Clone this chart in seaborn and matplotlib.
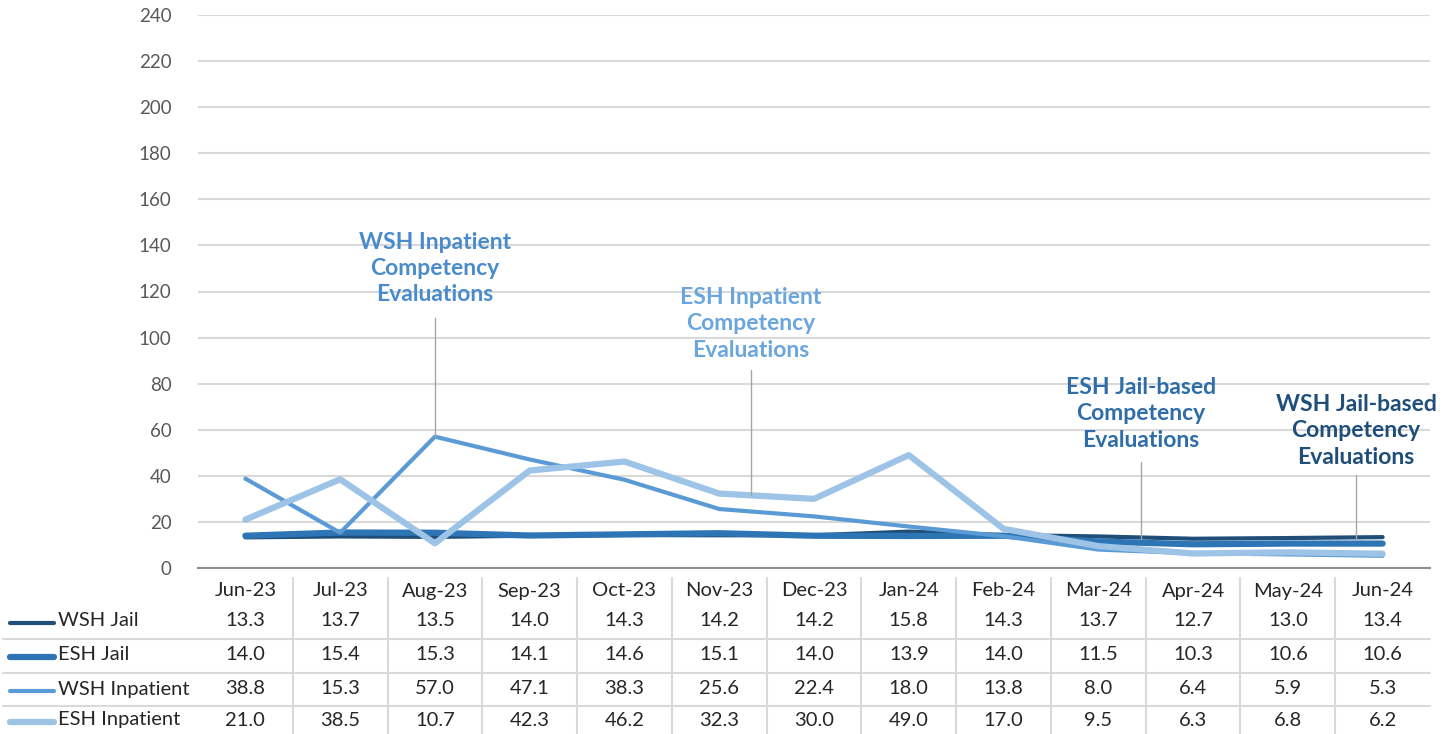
import pandas as pd
import seaborn as sns
import matplotlib.pyplot as plt
from matplotlib.lines import Line2D

# chart data
months = ["Jun-23", "Jul-23", "Aug-23", "Sep-23", "Oct-23", "Nov-23", "Dec-23",
          "Jan-24", "Feb-24", "Mar-24", "Apr-24", "May-24", "Jun-24"]
wsh_jail = [13.3, 13.7, 13.5, 14.0, 14.3, 14.2, 14.2, 15.8, 14.3, 13.7, 12.7, 13.0, 13.4]
esh_jail = [14.0, 15.4, 15.3, 14.1, 14.6, 15.1, 14.0, 13.9, 14.0, 11.5, 10.3, 10.6, 10.6]
wsh_inpatient = [38.8, 15.3, 57.0, 47.1, 38.3, 25.6, 22.4, 18.0, 13.8, 8.0, 6.4, 5.9, 5.3]
esh_inpatient = [21.0, 38.5, 10.7, 42.3, 46.2, 32.3, 30.0, 49.0, 17.0, 9.5, 6.3, 6.8, 6.2]

series_names = ["WSH Jail", "ESH Jail", "WSH Inpatient", "ESH Inpatient"]
series_values = [wsh_jail, esh_jail, wsh_inpatient, esh_inpatient]
colors = ["#1F4E79", "#2E75B6", "#5B9BD5", "#9DC3E6"]
widths = [3.0, 4.5, 3.0, 4.5]

sns.set_theme(style="white")
plt.rcParams["font.family"] = ["Lato", "DejaVu Sans"]

rows = []
for name, vals in zip(series_names, series_values):
    for i, v in enumerate(vals):
        rows.append({"series": name, "idx": i, "value": v})
df = pd.DataFrame(rows)

W, H = 1455, 734
fig = plt.figure(figsize=(W / 100, H / 100), dpi=100)
ax_left, ax_right, ax_top, ax_bot = 198, 1430, 15, 568
ax = fig.add_axes([ax_left / W, 1 - ax_bot / H, (ax_right - ax_left) / W, (ax_bot - ax_top) / H])

for name, c, lw in zip(series_names, colors, widths):
    sns.lineplot(data=df[df["series"] == name], x="idx", y="value", color=c,
                 linewidth=lw, ax=ax, legend=False, solid_capstyle="round", zorder=3)

ax.set_xlim(-0.5, len(months) - 0.5)
ax.set_ylim(0, 240)
ax.set_yticks(range(0, 241, 20))
ax.set_xticks([])
ax.set_xlabel("")
ax.set_ylabel("")
ax.grid(axis="y", color="#D9D9D9", linewidth=1.5)
ax.set_axisbelow(True)
for s in ["top", "right", "left"]:
    ax.spines[s].set_visible(False)
ax.spines["bottom"].set_color("#8C8C8C")
ax.spines["bottom"].set_linewidth(1.5)
ax.tick_params(axis="y", length=0, pad=19, labelsize=13.5, labelcolor="#595959")

# annotations with leader lines
notes = [
    ("WSH Inpatient\nCompetency\nEvaluations", 2.0, 130, 108.5, 57.0, "#4A8CCB"),
    ("ESH Inpatient\nCompetency\nEvaluations", 5.33, 106, 86, 31.6, "#6AA6DD"),
    ("ESH Jail-based\nCompetency\nEvaluations", 9.45, 67, 46, 12.5, "#2E6DAA"),
    ("WSH Jail-based\nCompetency\nEvaluations", 11.72, 59.5, 40.5, 13.2, "#1F4E79"),
]
for text, x, ty, y0, y1, c in notes:
    ax.text(x, ty, text, ha="center", va="center", fontsize=16.5, fontweight="bold",
            color=c, linespacing=1.32, zorder=5)
    ax.plot([x, x], [y0, y1], color="#A6A6A6", linewidth=1, zorder=4)

# data table below the chart
col_w = (ax_right - ax_left) / len(months)
header_y = 591
row_ys = [621, 655, 689, 720]
sep_ys = [639, 673, 706]
tsize = 14.5

def fx(px):
    return px / W

def fy(py):
    return 1 - py / H

for i, m in enumerate(months):
    cx = ax_left + col_w * (i + 0.5)
    fig.text(fx(cx), fy(header_y), m, ha="center", va="center", fontsize=tsize, color="#262626")
    for vals, ry in zip(series_values, row_ys):
        fig.text(fx(cx), fy(ry), f"{vals[i]:.1f}", ha="center", va="center",
                 fontsize=tsize, color="#262626")
    if i > 0:
        bx = ax_left + col_w * i
        fig.add_artist(Line2D([fx(bx), fx(bx)], [fy(578), fy(734)], color="#D9D9D9", linewidth=1.5))

for sy in sep_ys:
    fig.add_artist(Line2D([fx(3), fx(ax_right)], [fy(sy), fy(sy)], color="#D9D9D9", linewidth=1.5))

for name, c, lw, ry in zip(series_names, colors, widths, row_ys):
    fig.add_artist(Line2D([fx(10), fx(54)], [fy(ry + 2), fy(ry + 2)], color=c, linewidth=lw,
                          solid_capstyle="round"))
    fig.text(fx(58), fy(ry), name, ha="left", va="center", fontsize=tsize, color="#262626")

fig.savefig("out.png", dpi=100)
